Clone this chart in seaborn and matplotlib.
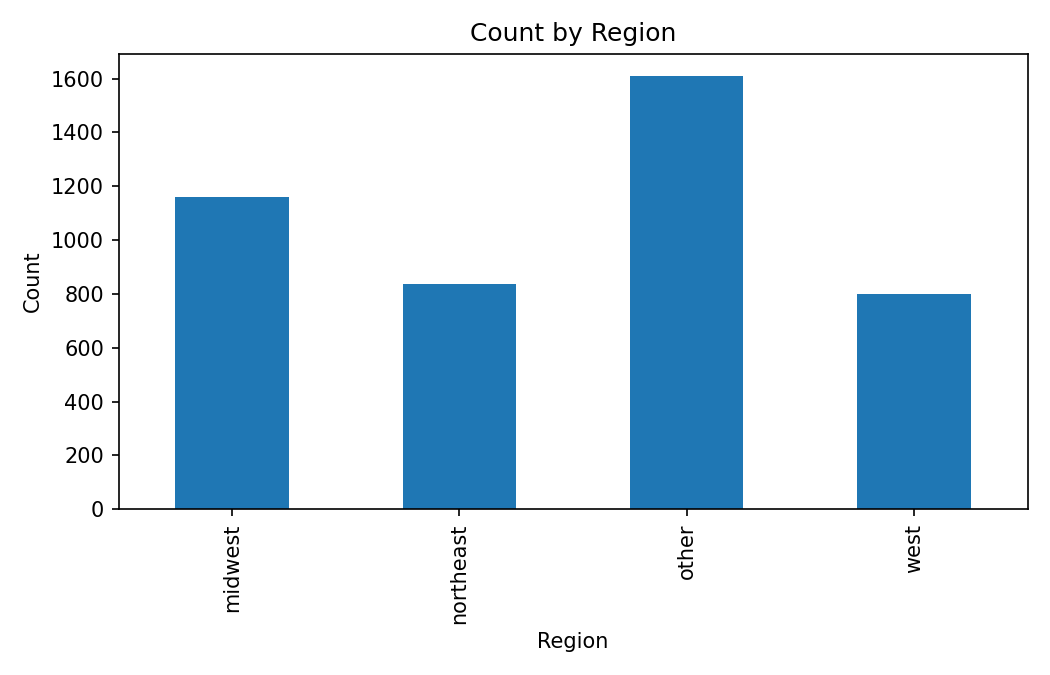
import pandas as pd
import matplotlib.pyplot as plt
import seaborn as sns

# values
regions = ['midwest', 'northeast', 'other', 'west']
counts = [1159, 837, 1611, 799]

df = pd.DataFrame({'Region': regions, 'Count': counts})

fig, ax = plt.subplots(figsize=(7, 4.5), dpi=150)
sns.barplot(data=df, x='Region', y='Count', color='#1f77b4', saturation=1,
            width=0.5, ax=ax)
ax.set_title('Count by Region')
ax.set_xlabel('Region')
ax.set_ylabel('Count')
ax.set_xlim(-0.5, len(regions) - 0.5)
ax.tick_params(axis='x', labelrotation=90)
plt.tight_layout()
plt.savefig('out.png', dpi=150)
